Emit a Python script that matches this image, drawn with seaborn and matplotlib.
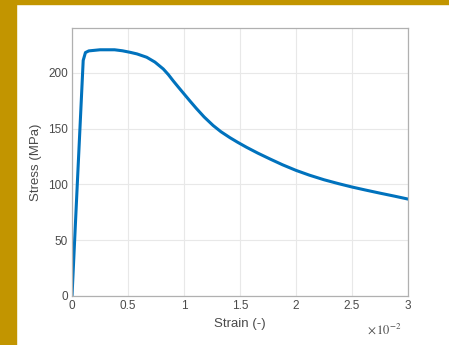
import numpy as np
import pandas as pd
import matplotlib
matplotlib.use('Agg')
import matplotlib.pyplot as plt
import seaborn as sns

# strain in units of 1e-2, stress in MPa
strain = [0, 0.05, 0.10, 0.12, 0.15, 0.25, 0.38, 0.45, 0.52, 0.58, 0.667, 0.74, 0.815, 0.86,
          0.905, 0.95, 1.00, 1.05, 1.11, 1.18, 1.26, 1.33, 1.41, 1.48, 1.56, 1.66, 1.77,
          1.88, 2.00, 2.12, 2.25, 2.38, 2.50, 2.62, 2.75, 2.88, 3.00]
stress = [0, 106, 211, 218, 219.5, 220.5, 220.5, 219.6, 218.2, 216.8, 213.8, 209.5, 203.3, 198.3,
          192.5, 187, 181, 175, 168, 160.3, 152.7, 147.1, 141.8, 137.6, 133.1, 127.9, 122.6,
          117.5, 112.5, 108.2, 104.1, 100.6, 97.6, 94.9, 92.1, 89.4, 86.8]
xticks = [0, 0.5, 1, 1.5, 2, 2.5, 3]
xticklabels = ['0', '0.5', '1', '1.5', '2', '2.5', '3']
yticks = [0, 50, 100, 150, 200]

sns.set_theme(style='whitegrid')
plt.rcParams['font.family'] = ['Liberation Sans', 'DejaVu Sans']
plt.rcParams['mathtext.fontset'] = 'stix'

df = pd.DataFrame({'strain': strain, 'stress': stress})

fig = plt.figure(figsize=(4.49, 3.45), dpi=100)
fig.patch.set_facecolor('white')

# gold frame on the left and top
fig.patches.append(plt.Rectangle((0, 0), 16 / 449, 1, transform=fig.transFigure,
                                 color='#C29500', zorder=0))
fig.patches.append(plt.Rectangle((0, 1 - 4 / 345), 1, 4 / 345, transform=fig.transFigure,
                                 color='#C29500', zorder=0))

ax = fig.add_axes([72 / 449, 1 - 296 / 345, 336 / 449, 268 / 345])
sns.lineplot(data=df, x='strain', y='stress', ax=ax, color='#0072BD', linewidth=2.2,
             solid_joinstyle='round', solid_capstyle='round')

ax.set_xlim(0, 3)
ax.set_ylim(0, 240)
ax.set_xticks(xticks)
ax.set_xticklabels(xticklabels)
ax.set_yticks(yticks)
ax.grid(True, color='#E8E8E8', linewidth=0.8)
ax.set_facecolor('white')
for s in ax.spines.values():
    s.set_color('#B0B0B0')
    s.set_linewidth(0.9)
ax.tick_params(axis='both', direction='in', length=3, color='#B0B0B0',
               labelsize=8.5, labelcolor='#4A4A4A', pad=3)
ax.set_xlabel('Strain (-)', fontsize=9.5, color='#4A4A4A', labelpad=4)
ax.set_ylabel('Stress (MPa)', fontsize=9.5, color='#4A4A4A', labelpad=4)

fig.text(384 / 449, 1 - 329 / 345, r'$\times\,10^{-2}$', fontsize=9, color='#4A4A4A',
         ha='center', va='center')

fig.savefig('out.png', dpi=100)
